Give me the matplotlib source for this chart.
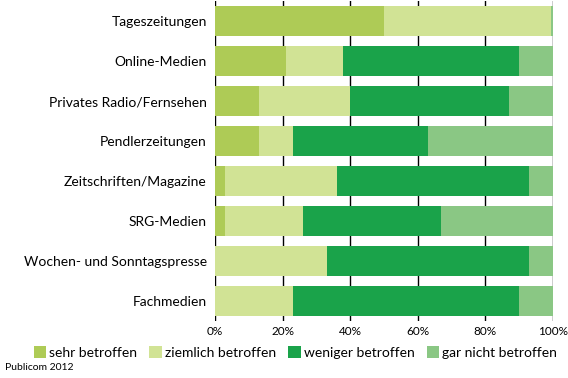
import numpy as np
import matplotlib
matplotlib.use("Agg")
import matplotlib.pyplot as plt

plt.rcParams['font.family'] = ['Lato', 'DejaVu Sans']

kategorien = ["Tageszeitungen", "Online-Medien", "Privates Radio/Fernsehen",
              "Pendlerzeitungen", "Zeitschriften/Magazine", "SRG-Medien",
              "Wochen- und Sonntagspresse", "Fachmedien"]
sehr = [50, 21, 13, 13, 3, 3, 0, 0]
ziemlich = [49.5, 17, 27, 10, 33, 23, 33, 23]
weniger = [0, 52, 47, 40, 57, 41, 60, 67]
gar_nicht = [0.5, 10, 13, 37, 7, 33, 7, 10]

serien = ["sehr betroffen", "ziemlich betroffen", "weniger betroffen", "gar nicht betroffen"]
farben = ["#aecb56", "#d1e395", "#1aa34a", "#8ac784"]

fig = plt.figure(figsize=(5.68, 3.78), dpi=100)
ax = fig.add_axes([0.3785, 0.151, 0.595, 0.846])

y = np.arange(len(kategorien))
links = np.zeros(len(kategorien))
for werte, name, farbe in zip([sehr, ziemlich, weniger, gar_nicht], serien, farben):
    ax.barh(y, werte, left=links, height=0.75, color=farbe, label=name, zorder=2)
    links += np.array(werte)

ax.set_xlim(0, 100)
ax.set_ylim(len(kategorien) - 0.5, -0.5)
ax.set_yticks(y)
ax.set_yticklabels(kategorien, fontsize=10)
ax.set_xticks(np.arange(0, 101, 20))
ax.set_xticklabels([f"{v}%" for v in range(0, 101, 20)], fontsize=8.5)
ax.tick_params(axis='both', length=0, pad=4)
ax.tick_params(axis='y', pad=6)
ax.grid(axis='x', color='black', linewidth=1, zorder=0)
ax.set_axisbelow(True)
for s in ax.spines.values():
    s.set_visible(False)

fig.legend(loc='center', bbox_to_anchor=(0.52, 0.068), ncol=4, frameon=False,
           fontsize=10, handlelength=0.9, handleheight=0.9, handletextpad=0.2,
           columnspacing=0.9, borderaxespad=0)
fig.text(0.009, 0.027, "Publicom 2012", fontsize=7.5, va='center')

fig.savefig("out.png", dpi=100)
